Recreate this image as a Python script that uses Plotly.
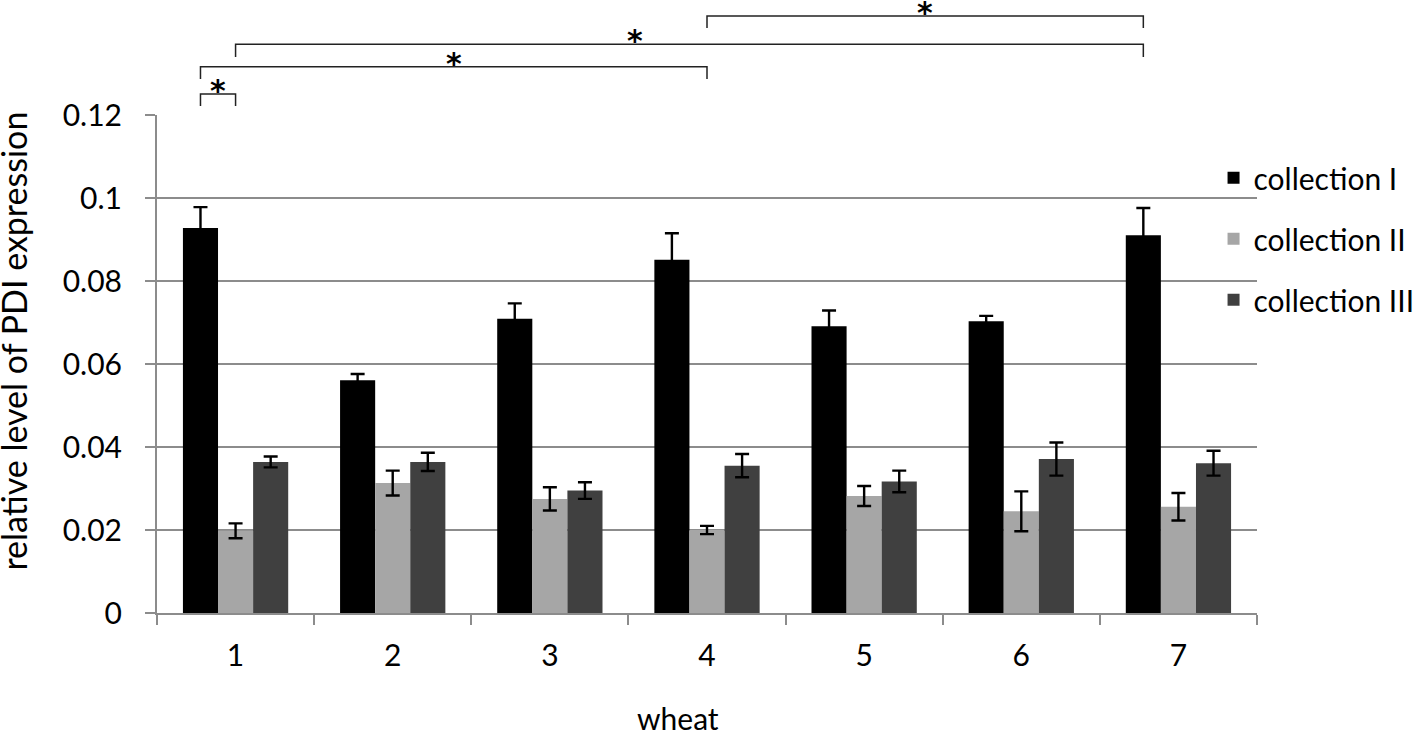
import plotly.graph_objects as go

# ---- data ----
wheat = ["1", "2", "3", "4", "5", "6", "7"]
series_names = ["collection I", "collection II", "collection III"]
col1 = [0.0928, 0.0561, 0.0709, 0.0851, 0.0691, 0.0703, 0.0910]
col1_err = [0.0050, 0.0015, 0.0037, 0.0064, 0.0038, 0.0013, 0.0066]
col2 = [0.0198, 0.0313, 0.0275, 0.0200, 0.0282, 0.0245, 0.0256]
col2_err = [0.0018, 0.0030, 0.0028, 0.0010, 0.0024, 0.0048, 0.0033]
col3 = [0.0364, 0.0364, 0.0295, 0.0355, 0.0317, 0.0371, 0.0361]
col3_err = [0.0013, 0.0022, 0.0020, 0.0028, 0.0026, 0.0040, 0.0030]
y_ticks = [0, 0.02, 0.04, 0.06, 0.08, 0.1, 0.12]
# significance comparisons: (wheat index, series index) pairs
comparisons = [((0, 0), (0, 1)), ((0, 0), (3, 1)), ((0, 1), (6, 0)), ((3, 1), (6, 0))]
sig_label = "*"

# ---- styling ----
FONT = "Lato"
FS = 30
colors = ["#000000", "#a6a6a6", "#404040"]
GRID = "#8c8c8c"
BARGAP = 0.33
bar_w = (1 - BARGAP) / 3

fig = go.Figure()
for i, (vals, errs) in enumerate([(col1, col1_err), (col2, col2_err), (col3, col3_err)]):
    fig.add_trace(go.Bar(
        x=wheat, y=vals, name=series_names[i], legendgroup=str(i),
        marker=dict(color=colors[i], line=dict(width=0)),
        error_y=dict(type="data", array=errs, visible=True, color="black", thickness=2.4, width=7),
    ))

# bracket levels (paper y of horizontal line, paper y of leg ends) and star positions
levels = [(1.0422, 1.018), (1.097, 1.0723), (1.142, 1.1165), (1.1988, 1.1747)]
star_frac = [0.5, 0.5, 0.44, 0.5]
star_dy = 0.007
for (a, b), (yt, yb), f in zip(comparisons, levels, star_frac):
    xa = a[0] + (a[1] - 1) * bar_w
    xb = b[0] + (b[1] - 1) * bar_w
    fig.add_shape(type="path", xref="x", yref="paper",
                  path=f"M {xa},{yb} L {xa},{yt} L {xb},{yt} L {xb},{yb}",
                  line=dict(color="#222222", width=1.5))
    fig.add_annotation(x=xa + f * (xb - xa), y=yt + star_dy, xref="x", yref="paper",
                       text=f"<b>{sig_label}</b>", showarrow=False,
                       font=dict(family="DejaVu Sans", size=30, color="black"),
                       yanchor="middle", xanchor="center")

# axis titles as annotations
fig.add_annotation(x=-0.130, y=0.545, xref="paper", yref="paper", text="relative level of PDI expression",
                   textangle=-90, showarrow=False, font=dict(family=FONT, size=34, color="black"),
                   xanchor="center", yanchor="middle")
fig.add_annotation(x=0.474, y=-0.211, xref="paper", yref="paper", text="wheat",
                   showarrow=False, font=dict(family=FONT, size=FS, color="black"),
                   xanchor="center", yanchor="middle")

fig.update_layout(
    width=1418, height=731, autosize=False,
    margin=dict(l=157, r=161, t=115, b=118, pad=0, autoexpand=False),
    paper_bgcolor="white", plot_bgcolor="white",
    font=dict(family=FONT, size=FS, color="black"),
    barmode="group", bargap=BARGAP, bargroupgap=0,
    showlegend=True,
    legend=dict(x=0.9605, y=0.926, xanchor="left", yanchor="top",
                traceorder="grouped", tracegroupgap=19,
                font=dict(family=FONT, size=FS, color="black"),
                bgcolor="rgba(0,0,0,0)"),
    xaxis=dict(type="category", showline=True, linecolor=GRID, linewidth=2,
               ticks="outside", tickson="boundaries", ticklen=10, tickwidth=2, tickcolor=GRID,
               ticklabelstandoff=15,
               showgrid=False, tickfont=dict(family=FONT, size=FS, color="black")),
    yaxis=dict(range=[0, 0.12], tickvals=y_ticks, showgrid=True, gridcolor=GRID, gridwidth=2,
               showline=True, linecolor=GRID, linewidth=2, zeroline=False,
               ticks="outside", ticklen=10, tickwidth=2, tickcolor=GRID,
               ticklabelstandoff=17,
               tickfont=dict(family=FONT, size=FS, color="black")),
)

fig.write_html("out.html", config={"displayModeBar": False},
               post_script="document.body.style.margin='0';document.body.style.overflow='hidden';")
